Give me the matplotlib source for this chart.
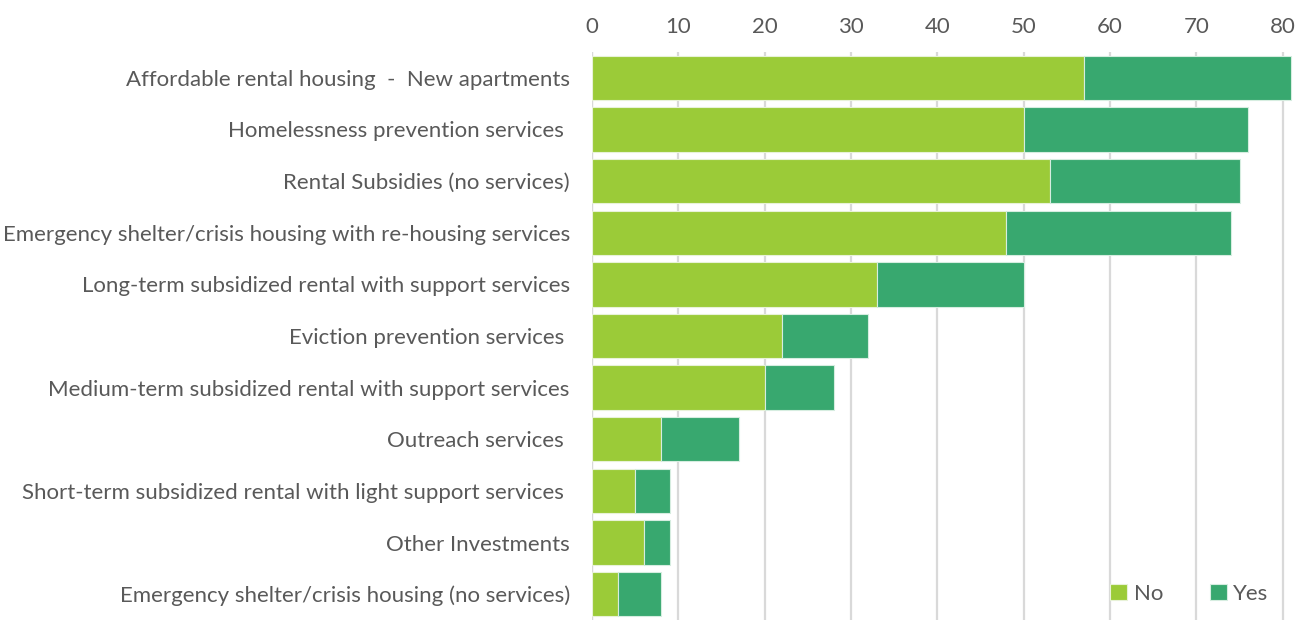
import matplotlib
matplotlib.use("Agg")
import matplotlib.pyplot as plt
import numpy as np

categories = [
    "Affordable rental housing  -  New apartments",
    "Homelessness prevention services ",
    "Rental Subsidies (no services)",
    "Emergency shelter/crisis housing with re-housing services",
    "Long-term subsidized rental with support services",
    "Eviction prevention services ",
    "Medium-term subsidized rental with support services",
    "Outreach services ",
    "Short-term subsidized rental with light support services ",
    "Other Investments",
    "Emergency shelter/crisis housing (no services)",
]
no_values = [57, 50, 53, 48, 33, 22, 20, 8, 5, 6, 3]
yes_values = [24, 26, 22, 26, 17, 10, 8, 9, 4, 3, 5]
x_ticks = [0, 10, 20, 30, 40, 50, 60, 70, 80]

NO_COLOR = "#9BCB38"
YES_COLOR = "#38A86F"
TEXT_COLOR = "#595959"
GRID_COLOR = "#D9D9D9"

plt.rcParams["font.family"] = ["Lato", "DejaVu Sans"]

fig = plt.figure(figsize=(13.1, 6.2), dpi=100)
ax = fig.add_axes([592 / 1310, 0.0, (1300 - 592) / 1310, 1 - 52 / 620])

y = np.arange(len(categories))
ax.barh(y, no_values, height=0.86, color=NO_COLOR, edgecolor="#E8F2D8",
        linewidth=0.8, label="No", zorder=3)
ax.barh(y, yes_values, left=no_values, height=0.86, color=YES_COLOR,
        edgecolor="#D6EDE0", linewidth=0.8, label="Yes", zorder=3)

ax.set_xlim(0, 82)
ax.set_ylim(len(categories) - 0.5, -0.5)
ax.set_xticks(x_ticks)
ax.set_yticks(y)
ax.set_yticklabels(categories)
ax.xaxis.tick_top()
ax.tick_params(axis="x", length=0, pad=11, labelsize=16, labelcolor=TEXT_COLOR)
ax.tick_params(axis="y", length=0, pad=16, labelsize=16, labelcolor=TEXT_COLOR)
ax.grid(axis="x", color=GRID_COLOR, linewidth=1.6, zorder=0)
ax.grid(axis="y", visible=False)
for s in ax.spines.values():
    s.set_visible(False)
ax.axvline(0, color=GRID_COLOR, linewidth=1.6, zorder=1)

leg = ax.legend(loc="center right", bbox_to_anchor=(1284 / 1310, 26 / 620),
                bbox_transform=fig.transFigure, ncol=2, frameon=False,
                fontsize=16, handlelength=0.75, handleheight=0.75,
                handletextpad=0.3, columnspacing=2.1, borderpad=0.2)
for t in leg.get_texts():
    t.set_color(TEXT_COLOR)

fig.savefig("out.png", dpi=100, facecolor="white")
